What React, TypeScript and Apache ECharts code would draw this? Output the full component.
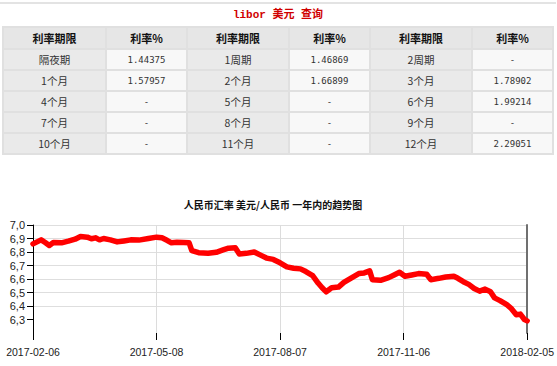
import React, { useEffect, useRef } from "react";
import * as echarts from "echarts";

// ---------- table data ----------
const headerCells = ["利率期限", "利率%", "利率期限", "利率%", "利率期限", "利率%"];
const tenorCol1 = ["隔夜期", "1个月", "4个月", "7个月", "10个月"];
const rateCol1 = ["1.44375", "1.57957", "-", "-", "-"];
const tenorCol2 = ["1周期", "2个月", "5个月", "8个月", "11个月"];
const rateCol2 = ["1.46869", "1.66899", "-", "-", "-"];
const tenorCol3 = ["2周期", "3个月", "6个月", "9个月", "12个月"];
const rateCol3 = ["-", "1.78902", "1.99214", "-", "2.29051"];
const tableTitle = "libor 美元 查询";

// ---------- chart data ----------
const chartTitle = "人民币汇率 美元/人民币 一年内的趋势图";
const startDate = "2017-02-06";
const xTickLabels = ["2017-02-06", "2017-05-08", "2017-08-07", "2017-11-06", "2018-02-05"];
const yTickValues = [6.3, 6.4, 6.5, 6.6, 6.7, 6.8, 6.9, 7.0];
const dates = [
  "2017-02-06", "2017-02-09", "2017-02-12", "2017-02-15", "2017-02-18", "2017-02-21", "2017-02-27",
  "2017-03-04", "2017-03-09", "2017-03-13", "2017-03-18", "2017-03-21", "2017-03-24", "2017-03-27",
  "2017-03-30", "2017-04-04", "2017-04-09", "2017-04-14", "2017-04-19", "2017-04-25", "2017-05-02",
  "2017-05-08", "2017-05-12", "2017-05-16", "2017-05-19", "2017-05-23", "2017-05-28", "2017-06-01",
  "2017-06-03", "2017-06-08", "2017-06-15", "2017-06-21", "2017-06-26", "2017-06-30", "2017-07-05",
  "2017-07-08", "2017-07-13", "2017-07-19", "2017-07-24", "2017-07-28", "2017-08-02", "2017-08-07",
  "2017-08-12", "2017-08-17", "2017-08-22", "2017-08-26", "2017-08-31", "2017-09-04", "2017-09-07",
  "2017-09-10", "2017-09-14", "2017-09-19", "2017-09-23", "2017-09-28", "2017-10-04", "2017-10-08",
  "2017-10-12", "2017-10-14", "2017-10-20", "2017-10-26", "2017-10-30", "2017-11-03", "2017-11-07",
  "2017-11-12", "2017-11-17", "2017-11-23", "2017-11-26", "2017-12-02", "2017-12-07", "2017-12-13",
  "2017-12-16", "2017-12-20", "2017-12-24", "2017-12-28", "2018-01-01", "2018-01-05", "2018-01-09",
  "2018-01-12", "2018-01-16", "2018-01-21", "2018-01-24", "2018-01-28", "2018-01-31", "2018-02-03",
  "2018-02-05",
];
const rates = [
  6.86, 6.875, 6.89, 6.87, 6.848, 6.87, 6.868,
  6.88, 6.895, 6.915, 6.91, 6.898, 6.905, 6.89,
  6.9, 6.89, 6.875, 6.882, 6.89, 6.888, 6.9,
  6.91, 6.905, 6.885, 6.868, 6.872, 6.87, 6.868,
  6.81, 6.795, 6.79, 6.798, 6.815, 6.828, 6.832,
  6.785, 6.79, 6.8, 6.775, 6.755, 6.745, 6.72,
  6.69, 6.68, 6.675, 6.655, 6.625, 6.57, 6.535,
  6.505, 6.535, 6.54, 6.575, 6.605, 6.64, 6.645,
  6.66, 6.595, 6.59, 6.61, 6.63, 6.65, 6.62,
  6.63, 6.64, 6.635, 6.595, 6.605, 6.615, 6.62,
  6.605, 6.58, 6.56, 6.53, 6.51, 6.525, 6.505,
  6.46, 6.44, 6.41, 6.385, 6.335, 6.34, 6.3,
  6.29,
];

const DAY = 86400000;
const t0 = Date.parse(startDate);

function buildTable() {
  const colX = [3, 106, 187, 289, 370, 472, 553];
  const rowY = [27, 49, 70, 91, 112, 133, 154];
  const cjk = '"Noto Sans CJK SC", sans-serif';
  const els: any[] = [];
  els.push({ type: "rect", shape: { x: 0, y: 2, width: 556, height: 2 }, style: { fill: "#e3e3e3" } });
  els.push({
    type: "text", x: 278, y: 15,
    style: { text: tableTitle, fill: "#d00000", font: 'bold 11px "Liberation Mono", "Noto Sans CJK SC", monospace', align: "center", verticalAlign: "middle" },
  });
  els.push({ type: "rect", shape: { x: colX[0] - 1, y: rowY[0] - 1, width: colX[6] - colX[0] + 2, height: rowY[6] - rowY[0] + 2 }, style: { fill: "#e0e0e0" } });
  const cols = [tenorCol1, rateCol1, tenorCol2, rateCol2, tenorCol3, rateCol3];
  for (let r = 0; r < 6; r++) {
    for (let c = 0; c < 6; c++) {
      const isHeader = r === 0;
      const isLabel = c % 2 === 0;
      const fill = isHeader ? "#e6e6e6" : isLabel ? "#eaeaea" : "#f8f8f8";
      els.push({
        type: "rect",
        shape: { x: colX[c] + 1, y: rowY[r] + 1, width: colX[c + 1] - colX[c] - 2, height: rowY[r + 1] - rowY[r] - 2 },
        style: { fill },
      });
      const text = isHeader ? headerCells[c] : cols[c][r - 1];
      const font = isHeader
        ? `bold 11px ${cjk}`
        : isLabel
        ? `10.5px ${cjk}`
        : '9px "DejaVu Sans Mono", monospace';
      els.push({
        type: "text",
        x: (colX[c] + colX[c + 1]) / 2,
        y: (rowY[r] + rowY[r + 1]) / 2,
        style: { text, font, fill: isHeader ? "#111" : "#333", align: "center", verticalAlign: "middle" },
      });
    }
  }
  return els;
}

export default function App() {
  const ref = useRef<HTMLDivElement>(null);
  useEffect(() => {
    if (!ref.current) return;
    const chart = echarts.init(ref.current, null, { renderer: "svg" });
    const data = dates.map((d, i) => [Math.round((Date.parse(d) - t0) / DAY), rates[i]]);
    const gridColors = ["rgba(0,0,0,0)", "#dedede", "#dedede", "#dedede", "#dedede", "#dedede", "#dedede", "#dedede", "#000"];
    chart.setOption({
      animation: false,
      backgroundColor: "#fff",
      title: {
        text: chartTitle,
        left: 268,
        top: 194,
        textAlign: "center",
        textStyle: { fontSize: 10, fontWeight: "bold", color: "#111", fontFamily: '"Noto Sans CJK SC", sans-serif' },
      },
      grid: { left: 33, right: 28, top: 225, bottom: 33 },
      xAxis: {
        type: "value",
        min: 0,
        max: 364,
        interval: 91,
        axisLine: { show: false },
        axisTick: { show: true, length: 7, lineStyle: { color: "#000" } },
        axisLabel: {
          margin: 13,
          color: "#222",
          fontSize: 10.5,
          fontFamily: '"Liberation Sans", Arial, sans-serif',
          formatter: (v: number) => xTickLabels[Math.round(v / 91)] ?? "",
        },
        splitLine: { show: true, lineStyle: { color: "#dcdcdc" } },
      },
      yAxis: [
        {
          type: "value",
          min: 6.2,
          max: 7.0,
          interval: 0.1,
          axisLine: { show: true, lineStyle: { color: "#000" } },
          axisTick: { show: true, length: 6, customValues: yTickValues, lineStyle: { color: "#000" } },
          axisLabel: {
            margin: 8,
            color: "#222",
            fontSize: 11,
            fontFamily: '"Liberation Sans", Arial, sans-serif',
            customValues: yTickValues,
            formatter: (v: number) => v.toFixed(1).replace(".", ","),
          },
          splitLine: { show: true, lineStyle: { color: gridColors } },
        },
        {
          type: "value",
          position: "right",
          min: 6.2,
          max: 7.0,
          axisLine: { show: true, lineStyle: { color: "#707070", width: 2 } },
          axisTick: { show: false },
          axisLabel: { show: false },
          splitLine: { show: false },
        },
      ],
      graphic: buildTable(),
      series: [
        {
          type: "line",
          data,
          showSymbol: false,
          lineStyle: { color: "#ff0000", width: 5.5, cap: "round", join: "round" },
          itemStyle: { color: "#ff0000" },
        },
      ],
    });
    return () => chart.dispose();
  }, []);
  return <div ref={ref} style={{ position: "absolute", left: 0, top: 0, width: 557, height: 366 }} />;
}
